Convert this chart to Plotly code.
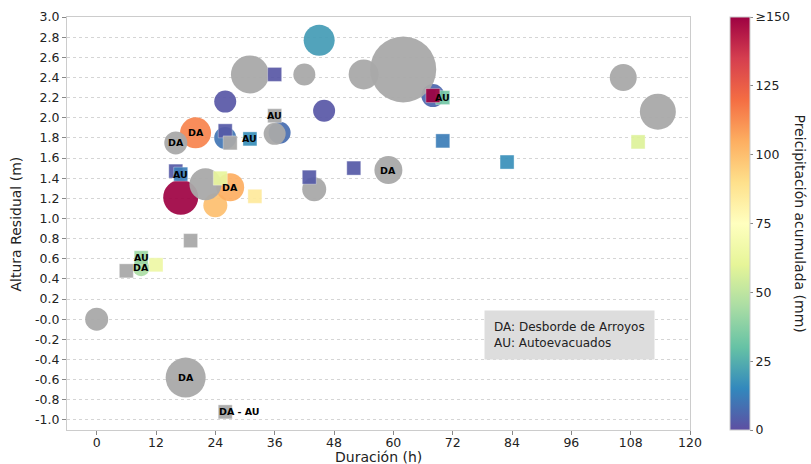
import plotly.graph_objects as go

# ---- data ----
# circles: duration (h), residual height (m), accumulated precipitation (mm, None = no data), bubble magnitude, label
circ_x = [0, 18, 31, 42, 26, 20, 16, 26, 37, 36, 17, 22, 24, 27, 9, 45, 54, 62, 46, 68, 59, 44, 106.5, 113.5]
circ_y = [0.00, -0.58, 2.43, 2.43, 2.16, 1.85, 1.75, 1.80, 1.85, 1.84, 1.21, 1.34, 1.13, 1.31, 0.51, 2.77, 2.43, 2.48, 2.07, 2.22, 1.48, 1.29, 2.40, 2.06]
circ_pp = [None, None, None, None, 2, 115, None, 10, 8, None, 160, None, 100, 105, 45, 20, None, None, 2, 6, None, None, None, None]
circ_mag = [23, 40, 38, 22, 22, 31, 23, 22, 22, 22, 35, 32, 24, 28, 17, 31, 30, 66, 22, 23, 28, 24, 27, 36]
circ_lab = ["", "DA", "", "", "", "DA", "DA", "", "", "", "", "", "", "DA", "DA", "", "", "", "", "", "DA", "", "", ""]

# squares
sq_x = [36, 36, 26, 27, 31, 16, 17, 25, 32, 19, 6, 9, 12, 26, 70, 68, 70, 83, 52, 43, 109.5]
sq_y = [2.43, 2.02, 1.87, 1.75, 1.79, 1.47, 1.44, 1.40, 1.22, 0.78, 0.48, 0.61, 0.54, -0.92, 2.20, 2.22, 1.77, 1.56, 1.50, 1.41, 1.76]
sq_pp = [2, None, 3, None, 17, 3, 12, 62, 85, None, None, 42, 65, None, 33, 160, 12, 17, 3, 3, 58]
sq_lab = ["", "AU", "", "", "AU", "", "AU", "", "", "", "", "AU", "", "DA - AU", "AU", "", "", "", "", "", ""]

x_ticks = [0, 12, 24, 36, 48, 60, 72, 84, 96, 108, 120]
y_ticks = [round(-1.0 + 0.2 * i, 1) for i in range(21)]
y_ticktext = ["-0.0" if abs(v) < 1e-9 else f"{v:.1f}" for v in y_ticks]
cb_ticks = [0, 25, 50, 75, 100, 125, 150]
cb_ticktext = ["0", "25", "50", "75", "100", "125", "≥150"]

spectral_r = [
    [0.0, "rgb(94,79,162)"], [0.1, "rgb(50,136,189)"], [0.2, "rgb(102,194,165)"],
    [0.3, "rgb(171,221,164)"], [0.4, "rgb(230,245,152)"], [0.5, "rgb(255,255,191)"],
    [0.6, "rgb(254,224,139)"], [0.7, "rgb(253,174,97)"], [0.8, "rgb(244,109,67)"],
    [0.9, "rgb(213,62,79)"], [1.0, "rgb(158,1,66)"],
]
GRAY = "#a9a9a9"
FONT = "DejaVu Sans"

def pick(xs, ys, ps, cond, extra=None):
    idx = [i for i, p in enumerate(ps) if cond(p)]
    out = [[xs[i] for i in idx], [ys[i] for i in idx], [ps[i] for i in idx]]
    if extra is not None:
        out.append([extra[i] for i in idx])
    return out

fig = go.Figure()

# colored circles
cx, cy, cp, cm = pick(circ_x, circ_y, circ_pp, lambda p: p is not None, circ_mag)
fig.add_trace(go.Scatter(x=cx, y=cy, mode="markers",
    marker=dict(symbol="circle", size=cm, sizemode="diameter", color=[min(p, 150) for p in cp],
                coloraxis="coloraxis", opacity=0.92, line=dict(width=0)), showlegend=False))
# gray circles
gx, gy, gp, gm = pick(circ_x, circ_y, circ_pp, lambda p: p is None, circ_mag)
fig.add_trace(go.Scatter(x=gx, y=gy, mode="markers",
    marker=dict(symbol="circle", size=gm, color=GRAY, opacity=0.95, line=dict(width=0)), showlegend=False))

# squares in original order (gray / colored)
for i in range(len(sq_x)):
    p = sq_pp[i]
    if p is None:
        mk = dict(symbol="square", size=14, color=GRAY, opacity=0.95, line=dict(width=0.6, color="rgba(255,255,255,0.6)"))
    else:
        mk = dict(symbol="square", size=14, color=[min(p, 150)], coloraxis="coloraxis", opacity=0.92,
                  line=dict(width=0.6, color="rgba(255,255,255,0.6)"))
    fig.add_trace(go.Scatter(x=[sq_x[i]], y=[sq_y[i]], mode="markers", marker=mk, showlegend=False))

# labels
for xs, ys, labs in [(circ_x, circ_y, circ_lab), (sq_x, sq_y, sq_lab)]:
    for x, y, t in zip(xs, ys, labs):
        if t:
            fig.add_annotation(x=x, y=y, text=f"<b>{t}</b>", showarrow=False,
                               xshift=14 if t == "DA - AU" else 0,
                               font=dict(family=FONT, size=9.5, color="black"))

# legend box
fig.add_annotation(xref="paper", yref="paper", x=0.669, y=0.291, xanchor="left", yanchor="top",
                   text="DA: Desborde de Arroyos<br>AU: Autoevacuados", align="left", showarrow=False,
                   bgcolor="#dddddd", borderpad=9, font=dict(family=FONT, size=12, color="#222"))

# axis titles
fig.add_annotation(xref="paper", yref="paper", x=0.5, y=-0.065, xanchor="center", yanchor="middle",
                   showarrow=False, text="Duración (h)", font=dict(family=FONT, size=14, color="#222"))
fig.add_annotation(xref="paper", yref="paper", x=-0.0819, y=0.5, xanchor="center", yanchor="middle",
                   textangle=-90, showarrow=False, text="Altura Residual (m)",
                   font=dict(family=FONT, size=14, color="#222"))
# colorbar title
fig.add_annotation(xref="paper", yref="paper", x=1.1766, y=0.5, xanchor="center", yanchor="middle",
                   textangle=90, showarrow=False,
                   text="Preicipitación acumulada (mm)", font=dict(family=FONT, size=14, color="#222"))

fig.update_layout(
    width=811, height=464, margin=dict(l=67, r=121, t=17, b=34),
    paper_bgcolor="white", plot_bgcolor="white",
    font=dict(family=FONT, size=12.5, color="#222"),
    coloraxis=dict(colorscale=spectral_r, cmin=0, cmax=150,
        colorbar=dict(x=1.064, xanchor="left", xpad=0, ypad=0, y=0.5, yanchor="middle", len=1, lenmode="fraction",
                      thickness=20, outlinewidth=1, outlinecolor="#cccccc",
                      tickvals=cb_ticks, ticktext=cb_ticktext, ticks="outside", ticklen=3, tickcolor="#888",
                      tickfont=dict(family=FONT, size=12.5, color="#222"))),
    xaxis=dict(range=[-6, 120], tickvals=x_ticks, showgrid=False, zeroline=False, automargin=False,
               showline=True, linecolor="#cccccc", linewidth=1, mirror=True,
               ticks="outside", ticklen=4, tickcolor="#888", ticklabelstandoff=-3),
    yaxis=dict(range=[-1.1, 3.0], tickvals=y_ticks, ticktext=y_ticktext, showgrid=True, automargin=False,
               gridcolor="#d5d5d5", griddash="dot", gridwidth=1, zeroline=False,
               showline=True, linecolor="#cccccc", linewidth=1, mirror=True,
               ticks="outside", ticklen=4, tickcolor="#888"),
)

fig.write_html("out.html", config={"displayModeBar": False},
               post_script="document.body.style.margin='0px';document.body.style.overflow='hidden';")
